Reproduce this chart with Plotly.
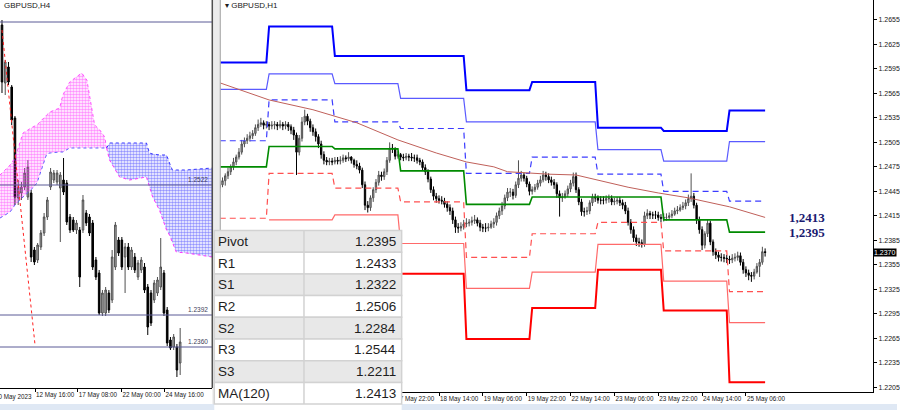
import plotly.graph_objects as go

W, H = 900, 410


def px(x):
    return x / W


def py(y):
    return 1 - y / H


# ---------------- H4 panel data (left) ----------------
h4_open = [1.2682, 1.2624, 1.2640, 1.2620, 1.2589, 1.2509, 1.2514, 1.2520, 1.2510, 1.2514,
           1.2457, 1.2447, 1.2460, 1.2474, 1.2490, 1.2520, 1.2527, 1.2525, 1.2519, 1.2527,
           1.2524, 1.2490, 1.2487, 1.2477, 1.2477, 1.2477, 1.2494, 1.2490, 1.2484, 1.2447,
           1.2434, 1.2394, 1.2394, 1.2414, 1.2407, 1.2440, 1.2467, 1.2467, 1.2450, 1.2460,
           1.2440, 1.2450, 1.2430, 1.2437, 1.2440, 1.2420, 1.2414, 1.2407, 1.2414, 1.2420,
           1.2434, 1.2397, 1.2367, 1.2360, 1.2360, 1.2344]
h4_high = [1.2687, 1.2647, 1.2645, 1.2622, 1.2591, 1.2527, 1.2525, 1.2539, 1.2547, 1.2517,
           1.2460, 1.2464, 1.2477, 1.2494, 1.2510, 1.2539, 1.2537, 1.2537, 1.2535, 1.2549,
           1.2527, 1.2493, 1.2490, 1.2487, 1.2480, 1.2512, 1.2497, 1.2493, 1.2487, 1.2450,
           1.2437, 1.2417, 1.2420, 1.2417, 1.2457, 1.2485, 1.2470, 1.2470, 1.2464, 1.2464,
           1.2460, 1.2454, 1.2447, 1.2450, 1.2444, 1.2423, 1.2417, 1.2427, 1.2430, 1.2469,
           1.2437, 1.2400, 1.2370, 1.2373, 1.2363, 1.2379]
h4_low = [1.2614, 1.2612, 1.2622, 1.2582, 1.2502, 1.2502, 1.2507, 1.2517, 1.2507, 1.2445,
          1.2442, 1.2444, 1.2457, 1.2471, 1.2487, 1.2517, 1.2524, 1.2522, 1.2465, 1.2512,
          1.2482, 1.2474, 1.2475, 1.2473, 1.2420, 1.2474, 1.2481, 1.2471, 1.2437, 1.2427,
          1.2392, 1.2391, 1.2391, 1.2394, 1.2404, 1.2437, 1.2451, 1.2437, 1.2414, 1.2437,
          1.2437, 1.2434, 1.2427, 1.2434, 1.2414, 1.2372, 1.2381, 1.2404, 1.2411, 1.2417,
          1.2391, 1.2361, 1.2357, 1.2357, 1.2330, 1.2332]
h4_close = [1.2625, 1.2645, 1.2625, 1.2587, 1.2510, 1.2520, 1.2520, 1.2534, 1.2540, 1.2450,
            1.2445, 1.2462, 1.2474, 1.2490, 1.2507, 1.2535, 1.2534, 1.2534, 1.2532, 1.2515,
            1.2485, 1.2477, 1.2477, 1.2484, 1.2430, 1.2507, 1.2484, 1.2474, 1.2440, 1.2430,
            1.2394, 1.2414, 1.2417, 1.2397, 1.2450, 1.2482, 1.2454, 1.2440, 1.2460, 1.2440,
            1.2457, 1.2437, 1.2444, 1.2447, 1.2417, 1.2380, 1.2384, 1.2424, 1.2427, 1.2440,
            1.2394, 1.2364, 1.2359, 1.2370, 1.2337, 1.2365]

# Ichimoku cloud: first part (magenta) and second part (blue)
kumo1_bars = [-0.6, 2.5, 4.0, 5.5, 6.5, 9.5, 10.8, 13.8, 14.8, 17.8, 18.8, 20.9, 24.6, 26.2, 27.1, 28.6, 30.2, 31.7, 32.3]
kumo1_top = [1.2532, 1.2542, 1.2549, 1.2565, 1.2574, 1.2580, 1.2582, 1.2592, 1.2595, 1.2599,
             1.2612, 1.2625, 1.2634, 1.2627, 1.2609, 1.2582, 1.2577, 1.2570, 1.2559]
kumo1_bot = [1.2489, 1.2495, 1.2502, 1.2507, 1.2510, 1.2519, 1.2524, 1.2553, 1.2554, 1.2555,
             1.2555, 1.2559, 1.2559, 1.2559, 1.2559, 1.2559, 1.2559, 1.2559, 1.2559]
kumo2_bars = [32.3, 33.2, 36.3, 39.4, 44.6, 45.5, 46.5, 48.6, 50.8, 51.7, 52.3, 52.6, 53.8, 56.9, 64.9]
kumo2_top = [1.2559, 1.2564, 1.2564, 1.2564, 1.2564, 1.2554, 1.2553, 1.2552, 1.2552, 1.2544,
             1.2539, 1.2537, 1.2537, 1.2537, 1.2539]
kumo2_bot = [1.2559, 1.2547, 1.2530, 1.2527, 1.2530, 1.2520, 1.2510, 1.2497, 1.2477, 1.2472,
             1.2467, 1.2464, 1.2455, 1.2454, 1.2450]

h4_levels = [1.2685, 1.2522, 1.2392, 1.2360]
h4_level_labels = ["", "1.2522", "1.2392", "1.2360"]
h4_trend_bars = [0.0, 10.2]
h4_trend_prices = [1.2677, 1.2362]

h4_tick_bars = [10.2, 23.4, 36.9, 50.2]
h4_tick_text = ["12 May 16:00", "17 May 08:00", "22 May 00:00", "24 May 16:00"]
h4_first_label = "10 May 2023"   # cut by the left edge of the window

# ---------------- H1 panel data (right) ----------------
h1_open = [
    1.2449, 1.2453, 1.2458, 1.2464, 1.2469, 1.2475, 1.2481, 1.2487, 1.2493, 1.2503,
    1.2507, 1.2510, 1.2513, 1.2516, 1.2523, 1.2527, 1.2529, 1.2526, 1.2527, 1.2525,
    1.2526, 1.2527, 1.2525, 1.2527, 1.2525, 1.2527, 1.2524, 1.2520, 1.2514, 1.2493,
    1.2510, 1.2530, 1.2537, 1.2531, 1.2523, 1.2518, 1.2512, 1.2503, 1.2490, 1.2483,
    1.2481, 1.2482, 1.2481, 1.2483, 1.2482, 1.2483, 1.2486, 1.2485, 1.2487, 1.2483,
    1.2478, 1.2476, 1.2471, 1.2453, 1.2428, 1.2425, 1.2437, 1.2447, 1.2456, 1.2465,
    1.2463, 1.2469, 1.2483, 1.2498, 1.2497, 1.2488, 1.2490, 1.2487, 1.2486, 1.2488,
    1.2487, 1.2486, 1.2486, 1.2483, 1.2481, 1.2474, 1.2469, 1.2460, 1.2447, 1.2439,
    1.2436, 1.2434, 1.2433, 1.2429, 1.2425, 1.2421, 1.2410, 1.2401, 1.2400, 1.2402,
    1.2405, 1.2406, 1.2407, 1.2409, 1.2410, 1.2406, 1.2401, 1.2400, 1.2400, 1.2401,
    1.2405, 1.2407, 1.2415, 1.2421, 1.2427, 1.2437, 1.2444, 1.2444, 1.2440, 1.2453,
    1.2461, 1.2465, 1.2461, 1.2454, 1.2445, 1.2447, 1.2450, 1.2455, 1.2459, 1.2465,
    1.2463, 1.2459, 1.2456, 1.2453, 1.2442, 1.2437, 1.2438, 1.2442, 1.2448, 1.2455,
    1.2463, 1.2447, 1.2432, 1.2420, 1.2420, 1.2421, 1.2431, 1.2438, 1.2437, 1.2434,
    1.2434, 1.2434, 1.2436, 1.2436, 1.2432, 1.2433, 1.2434, 1.2431, 1.2428, 1.2421,
    1.2407, 1.2398, 1.2388, 1.2383, 1.2382, 1.2380, 1.2415, 1.2418, 1.2416, 1.2416,
    1.2416, 1.2413, 1.2412, 1.2413, 1.2413, 1.2415, 1.2417, 1.2421, 1.2422, 1.2425,
    1.2427, 1.2431, 1.2436, 1.2439, 1.2428, 1.2410, 1.2398, 1.2379, 1.2393, 1.2406,
    1.2383, 1.2371, 1.2367, 1.2364, 1.2364, 1.2363, 1.2362, 1.2361, 1.2363, 1.2364,
    1.2366, 1.2358, 1.2349, 1.2345, 1.2342, 1.2341, 1.2346, 1.2353, 1.2358, 1.2371]
h1_high = [
    1.2457, 1.2462, 1.2467, 1.2474, 1.2478, 1.2486, 1.2490, 1.2498, 1.2508, 1.2511,
    1.2515, 1.2518, 1.2520, 1.2527, 1.2533, 1.2535, 1.2532, 1.2531, 1.2530, 1.2531,
    1.2531, 1.2530, 1.2532, 1.2530, 1.2531, 1.2530, 1.2527, 1.2524, 1.2517, 1.2514,
    1.2536, 1.2545, 1.2540, 1.2534, 1.2527, 1.2522, 1.2515, 1.2507, 1.2494, 1.2487,
    1.2486, 1.2486, 1.2487, 1.2487, 1.2488, 1.2490, 1.2489, 1.2493, 1.2488, 1.2485,
    1.2483, 1.2480, 1.2474, 1.2457, 1.2433, 1.2440, 1.2450, 1.2460, 1.2470, 1.2469,
    1.2473, 1.2487, 1.2505, 1.2503, 1.2499, 1.2494, 1.2492, 1.2491, 1.2492, 1.2491,
    1.2492, 1.2490, 1.2490, 1.2486, 1.2484, 1.2478, 1.2472, 1.2463, 1.2451, 1.2443,
    1.2440, 1.2439, 1.2437, 1.2433, 1.2429, 1.2425, 1.2414, 1.2406, 1.2407, 1.2410,
    1.2412, 1.2411, 1.2414, 1.2416, 1.2413, 1.2410, 1.2405, 1.2406, 1.2406, 1.2409,
    1.2412, 1.2419, 1.2425, 1.2432, 1.2441, 1.2449, 1.2449, 1.2448, 1.2457, 1.2483,
    1.2470, 1.2468, 1.2464, 1.2457, 1.2451, 1.2454, 1.2459, 1.2464, 1.2470, 1.2469,
    1.2467, 1.2463, 1.2460, 1.2456, 1.2446, 1.2443, 1.2446, 1.2452, 1.2459, 1.2468,
    1.2468, 1.2450, 1.2436, 1.2425, 1.2426, 1.2434, 1.2442, 1.2442, 1.2440, 1.2439,
    1.2439, 1.2440, 1.2441, 1.2440, 1.2437, 1.2438, 1.2438, 1.2435, 1.2432, 1.2425,
    1.2411, 1.2402, 1.2392, 1.2388, 1.2386, 1.2420, 1.2423, 1.2421, 1.2420, 1.2421,
    1.2420, 1.2417, 1.2418, 1.2418, 1.2419, 1.2422, 1.2425, 1.2427, 1.2429, 1.2432,
    1.2435, 1.2441, 1.2467, 1.2443, 1.2431, 1.2414, 1.2402, 1.2396, 1.2410, 1.2409,
    1.2386, 1.2375, 1.2371, 1.2369, 1.2368, 1.2367, 1.2366, 1.2368, 1.2369, 1.2371,
    1.2370, 1.2362, 1.2353, 1.2349, 1.2346, 1.2350, 1.2357, 1.2362, 1.2377, 1.2375]
h1_low = [
    1.2444, 1.2450, 1.2452, 1.2460, 1.2465, 1.2471, 1.2477, 1.2484, 1.2490, 1.2499,
    1.2503, 1.2506, 1.2509, 1.2513, 1.2519, 1.2524, 1.2521, 1.2522, 1.2520, 1.2521,
    1.2521, 1.2520, 1.2522, 1.2520, 1.2521, 1.2519, 1.2515, 1.2508, 1.2465, 1.2489,
    1.2506, 1.2526, 1.2526, 1.2518, 1.2513, 1.2506, 1.2498, 1.2485, 1.2478, 1.2477,
    1.2477, 1.2477, 1.2478, 1.2478, 1.2478, 1.2480, 1.2481, 1.2482, 1.2479, 1.2474,
    1.2472, 1.2467, 1.2449, 1.2422, 1.2419, 1.2421, 1.2432, 1.2443, 1.2452, 1.2458,
    1.2459, 1.2465, 1.2480, 1.2492, 1.2484, 1.2485, 1.2483, 1.2482, 1.2483, 1.2482,
    1.2482, 1.2481, 1.2479, 1.2477, 1.2470, 1.2465, 1.2456, 1.2443, 1.2434, 1.2431,
    1.2430, 1.2429, 1.2425, 1.2420, 1.2416, 1.2405, 1.2394, 1.2394, 1.2396, 1.2398,
    1.2401, 1.2402, 1.2403, 1.2405, 1.2402, 1.2396, 1.2395, 1.2395, 1.2396, 1.2399,
    1.2400, 1.2403, 1.2411, 1.2416, 1.2423, 1.2433, 1.2438, 1.2435, 1.2437, 1.2449,
    1.2457, 1.2457, 1.2450, 1.2440, 1.2441, 1.2444, 1.2447, 1.2451, 1.2456, 1.2458,
    1.2455, 1.2452, 1.2448, 1.2437, 1.2414, 1.2432, 1.2436, 1.2438, 1.2444, 1.2451,
    1.2443, 1.2428, 1.2415, 1.2414, 1.2416, 1.2417, 1.2427, 1.2432, 1.2430, 1.2429,
    1.2429, 1.2430, 1.2431, 1.2428, 1.2428, 1.2429, 1.2427, 1.2423, 1.2417, 1.2403,
    1.2393, 1.2383, 1.2378, 1.2377, 1.2376, 1.2377, 1.2411, 1.2411, 1.2411, 1.2411,
    1.2409, 1.2407, 1.2408, 1.2409, 1.2410, 1.2412, 1.2415, 1.2417, 1.2420, 1.2422,
    1.2423, 1.2427, 1.2432, 1.2424, 1.2405, 1.2393, 1.2373, 1.2375, 1.2389, 1.2379,
    1.2366, 1.2362, 1.2359, 1.2359, 1.2358, 1.2357, 1.2356, 1.2357, 1.2359, 1.2360,
    1.2354, 1.2344, 1.2340, 1.2336, 1.2334, 1.2337, 1.2344, 1.2340, 1.2355, 1.2365]
h1_close = [
    1.2453, 1.2458, 1.2464, 1.2469, 1.2475, 1.2481, 1.2487, 1.2493, 1.2503, 1.2507,
    1.2510, 1.2513, 1.2516, 1.2523, 1.2527, 1.2529, 1.2526, 1.2527, 1.2525, 1.2526,
    1.2527, 1.2525, 1.2527, 1.2525, 1.2527, 1.2524, 1.2520, 1.2514, 1.2493, 1.2510,
    1.2530, 1.2537, 1.2531, 1.2523, 1.2518, 1.2512, 1.2503, 1.2490, 1.2483, 1.2481,
    1.2482, 1.2481, 1.2483, 1.2482, 1.2483, 1.2486, 1.2485, 1.2487, 1.2483, 1.2478,
    1.2476, 1.2471, 1.2453, 1.2428, 1.2425, 1.2437, 1.2447, 1.2456, 1.2465, 1.2463,
    1.2469, 1.2483, 1.2498, 1.2497, 1.2488, 1.2490, 1.2487, 1.2486, 1.2488, 1.2487,
    1.2486, 1.2486, 1.2483, 1.2481, 1.2474, 1.2469, 1.2460, 1.2447, 1.2439, 1.2436,
    1.2434, 1.2433, 1.2429, 1.2425, 1.2421, 1.2410, 1.2401, 1.2400, 1.2402, 1.2405,
    1.2406, 1.2407, 1.2409, 1.2410, 1.2406, 1.2401, 1.2400, 1.2400, 1.2401, 1.2405,
    1.2407, 1.2415, 1.2421, 1.2427, 1.2437, 1.2444, 1.2444, 1.2440, 1.2453, 1.2461,
    1.2465, 1.2461, 1.2454, 1.2445, 1.2447, 1.2450, 1.2455, 1.2459, 1.2465, 1.2463,
    1.2459, 1.2456, 1.2453, 1.2442, 1.2437, 1.2438, 1.2442, 1.2448, 1.2455, 1.2463,
    1.2447, 1.2432, 1.2420, 1.2420, 1.2421, 1.2431, 1.2438, 1.2437, 1.2434, 1.2434,
    1.2434, 1.2436, 1.2436, 1.2432, 1.2433, 1.2434, 1.2431, 1.2428, 1.2421, 1.2407,
    1.2398, 1.2388, 1.2383, 1.2382, 1.2380, 1.2415, 1.2418, 1.2416, 1.2416, 1.2416,
    1.2413, 1.2412, 1.2413, 1.2413, 1.2415, 1.2417, 1.2421, 1.2422, 1.2425, 1.2427,
    1.2431, 1.2436, 1.2439, 1.2428, 1.2410, 1.2398, 1.2379, 1.2393, 1.2406, 1.2383,
    1.2371, 1.2367, 1.2364, 1.2364, 1.2363, 1.2362, 1.2361, 1.2363, 1.2364, 1.2366,
    1.2358, 1.2349, 1.2345, 1.2342, 1.2341, 1.2346, 1.2353, 1.2358, 1.2371, 1.2370]

# daily pivot levels (15 May .. 25 May), first bar of each day
day_names = ["15 May", "16 May", "17 May", "18 May", "19 May", "22 May", "23 May", "24 May", "25 May"]
day_start = [0, 18, 42, 66, 90, 114, 138, 162, 186]
r3 = [1.2603, 1.2647, 1.2611, 1.2611, 1.2569, 1.2579, 1.2523, 1.2519, 1.2544]
r2 = [1.2570, 1.2589, 1.2577, 1.2559, 1.2530, 1.2530, 1.2496, 1.2482, 1.2506]
r1 = [1.2507, 1.2557, 1.2530, 1.2522, 1.2467, 1.2487, 1.2466, 1.2445, 1.2433]
pivot = [1.2475, 1.2500, 1.2497, 1.2470, 1.2429, 1.2438, 1.2438, 1.2410, 1.2395]
s1 = [1.2412, 1.2467, 1.2449, 1.2432, 1.2364, 1.2393, 1.2407, 1.2372, 1.2322]
s2 = [None, 1.2410, 1.2416, 1.2381, 1.2326, 1.2346, 1.2380, 1.2335, 1.2284]
s3 = [None, None, None, 1.2344, 1.2264, 1.2302, 1.2349, 1.2299, 1.2211]

# MA(120) read at some bars
ma_bars = [0, 18, 34, 50, 65, 79, 90, 100, 105, 120, 130, 138, 149, 160, 171, 186, 199]
ma_vals = [1.2578, 1.2557, 1.2545, 1.2529, 1.2508, 1.2492, 1.2481, 1.2475, 1.2469, 1.2466,
           1.2465, 1.2459, 1.2450, 1.2443, 1.2437, 1.2426, 1.2413]

# time labels left of 17 May 22:00 sit under the table and are not drawn
h1_tick_bars = [64, 80, 96, 112, 128, 144, 160, 176, 192]
h1_tick_text = ["17 May 22:00", "18 May 14:00", "19 May 06:00", "19 May 22:00", "22 May 14:00",
                "23 May 06:00", "23 May 22:00", "24 May 14:00", "25 May 06:00"]

NARROW = "Liberation Sans Narrow, Liberation Sans, Arial"
TICKFONT = dict(family=NARROW, size=6.3, color="#202020")
YTICKFONT = dict(family=NARROW, size=7, color="#202020")

fig = go.Figure()

# ---- left panel: cloud ----
fig.add_trace(go.Scatter(x=kumo1_bars, y=kumo1_bot, mode="lines",
                         line=dict(color="#6060ff", width=1, dash="dot"), hoverinfo="skip"))
fig.add_trace(go.Scatter(x=kumo1_bars, y=kumo1_top, mode="lines", fill="tonexty",
                         fillcolor="rgba(0,0,0,0)",
                         fillpattern=dict(shape=".", fgcolor="#ff22ff", bgcolor="rgba(0,0,0,0)",
                                          size=3, solidity=0.55),
                         line=dict(color="#ff55ff", width=1, dash="dot"), hoverinfo="skip"))
fig.add_trace(go.Scatter(x=kumo2_bars, y=kumo2_bot, mode="lines",
                         line=dict(color="#ff33ff", width=1, dash="dot"), hoverinfo="skip"))
fig.add_trace(go.Scatter(x=kumo2_bars, y=kumo2_top, mode="lines", fill="tonexty",
                         fillcolor="rgba(0,0,0,0)",
                         fillpattern=dict(shape=".", fgcolor="#2a2aff", bgcolor="rgba(0,0,0,0)",
                                          size=3, solidity=0.55),
                         line=dict(color="#3333ff", width=1, dash="dot"), hoverinfo="skip"))
fig.add_trace(go.Scatter(x=h4_trend_bars, y=h4_trend_prices, mode="lines",
                         line=dict(color="#ff2020", width=1, dash="dot"), hoverinfo="skip"))

fig.add_trace(go.Candlestick(
    x=list(range(len(h4_close))), open=h4_open, high=h4_high, low=h4_low, close=h4_close,
    increasing=dict(line=dict(color="#505050", width=1), fillcolor="#a8a8a8"),
    decreasing=dict(line=dict(color="#000000", width=1), fillcolor="#000000"),
    whiskerwidth=0, hoverinfo="skip"))


# ---- right panel: pivot steps ----
def steps(levels):
    xs, ys = [], []
    for k, v in enumerate(levels):
        end = day_start[k + 1] - 1 if k + 1 < len(day_start) else len(h1_close) - 1
        xs += [day_start[k], end]
        ys += [v, v]
    return xs, ys


level_styles = [
    (r3, "#0000ff", 2, "solid"),
    (r2, "#5a5aff", 1.2, "solid"),
    (r1, "#3c3cff", 1.2, "6px,4px"),
    (s1, "#ff5050", 1.2, "6px,4px"),
    (s2, "#ff6a6a", 1.2, "solid"),
    (s3, "#ff0000", 2, "solid"),
]
for lev, col, wd, dash in level_styles:
    xs, ys = steps(lev)
    fig.add_trace(go.Scatter(x=xs, y=ys, mode="lines", xaxis="x2", yaxis="y2",
                             line=dict(color=col, width=wd, dash=dash), hoverinfo="skip"))

fig.add_trace(go.Scatter(x=ma_bars, y=ma_vals, mode="lines", xaxis="x2", yaxis="y2",
                         line=dict(color="#c0605a", width=1), hoverinfo="skip"))
xs, ys = steps(pivot)
fig.add_trace(go.Scatter(x=xs, y=ys, mode="lines", xaxis="x2", yaxis="y2",
                         line=dict(color="#008a00", width=1.6), hoverinfo="skip"))

fig.add_trace(go.Candlestick(
    x=list(range(len(h1_close))), open=h1_open, high=h1_high, low=h1_low, close=h1_close,
    xaxis="x2", yaxis="y2",
    increasing=dict(line=dict(color="#505050", width=1), fillcolor="#a8a8a8"),
    decreasing=dict(line=dict(color="#000000", width=1), fillcolor="#000000"),
    whiskerwidth=0, hoverinfo="skip"))

# ---- shapes ----
shapes = []
for v in h4_levels:
    shapes.append(dict(type="line", xref="x domain", yref="y", x0=0, x1=1, y0=v, y1=v,
                       line=dict(color="#5a5a96", width=1), layer="above"))
# panel separators and bottom strip
shapes += [
    dict(type="rect", xref="paper", yref="paper", x0=px(213), x1=px(221), y0=0, y1=1,
         fillcolor="#ececec", line=dict(width=0), layer="above"),
    dict(type="line", xref="paper", yref="paper", x0=px(213), x1=px(213), y0=py(388), y1=1,
         line=dict(color="#505050", width=1.5), layer="above"),
    dict(type="line", xref="paper", yref="paper", x0=px(221), x1=px(221), y0=py(392), y1=1,
         line=dict(color="#a0a0a0", width=1), layer="above"),
    dict(type="rect", xref="paper", yref="paper", x0=0, x1=1, y0=0, y1=py(404),
         fillcolor="#dfe8f4", line=dict(width=0), layer="above"),
]

# ---- table ----
table_labels = ["Pivot", "R1", "S1", "R2", "S2", "R3", "S3", "MA(120)"]
table_values = [pivot[-1], r1[-1], s1[-1], r2[-1], s2[-1], r3[-1], s3[-1], ma_vals[-1]]
tx0, tmid, tx1 = 215, 305, 403
ty0, row_h = 230.5, 21.7
shapes.append(dict(type="rect", xref="paper", yref="paper", x0=px(tx0), x1=px(tx1),
                   y0=0, y1=py(ty0), fillcolor="#ffffff", line=dict(width=0), layer="above"))
annotations = []
for k, (lab, val) in enumerate(zip(table_labels, table_values)):
    top = ty0 + k * row_h
    bg = "#e8e8e8" if k % 2 == 0 else "#ffffff"
    shapes.append(dict(type="rect", xref="paper", yref="paper", x0=px(tx0), x1=px(tx1),
                       y0=py(top + row_h), y1=py(top), fillcolor=bg,
                       line=dict(color="#d2d2d2", width=1.5), layer="above"))
    annotations.append(dict(x=px(217), y=py(top + row_h / 2), xref="paper", yref="paper",
                            text=lab, showarrow=False, xanchor="left", yanchor="middle",
                            font=dict(family=NARROW, size=13.5, color="#1e1e1e")))
    annotations.append(dict(x=px(399), y=py(top + row_h / 2), xref="paper", yref="paper",
                            text=f"{val:.4f}", showarrow=False, xanchor="right", yanchor="middle",
                            font=dict(family=NARROW, size=13.5, color="#1e1e1e")))
shapes.append(dict(type="line", xref="paper", yref="paper", x0=px(tmid), x1=px(tmid),
                   y0=py(ty0 + 8 * row_h), y1=py(ty0), line=dict(color="#d2d2d2", width=1.5),
                   layer="above"))

# ---- text ----
annotations += [
    dict(x=px(2), y=py(5), xref="paper", yref="paper", text="GBPUSD,H4", showarrow=False,
         xanchor="left", yanchor="middle", font=dict(family=NARROW, size=8, color="#202020")),
    dict(x=px(224), y=py(5), xref="paper", yref="paper", text="▾ GBPUSD,H1", showarrow=False,
         xanchor="left", yanchor="middle", font=dict(family=NARROW, size=8, color="#202020")),
    dict(x=0, y=py(397), xref="paper", yref="paper", text=h4_first_label, xshift=-7,
         showarrow=False, xanchor="left", yanchor="middle", font=TICKFONT),
    dict(x=px(876), y=h1_close[-1], xref="paper", yref="y2", text=f"{h1_close[-1]:.4f}",
         showarrow=False, xanchor="left", yanchor="middle", bgcolor="#000000",
         font=dict(family=NARROW, size=7, color="#ffffff"), borderpad=0),
]
for v in (ma_vals[-1], pivot[-1]):
    annotations.append(dict(x=px(810), y=v, xref="paper", yref="y2",
                            text=f"{v:.4f}".replace(".", ","), showarrow=False,
                            xanchor="center", yanchor="middle",
                            font=dict(family="Liberation Serif, Times New Roman, serif",
                                      size=13, color="#1a1a70", weight="bold")))
for v, lab in zip(h4_levels, h4_level_labels):
    if lab:
        annotations.append(dict(x=px(211), y=v, xref="paper", yref="y", text=lab,
                                showarrow=False, xanchor="right", yanchor="bottom",
                                font=dict(family=NARROW, size=6.5, color="#40405a")))

fig.update_layout(
    width=W, height=H, margin=dict(l=0, r=0, t=0, b=0),
    paper_bgcolor="#ffffff", plot_bgcolor="#ffffff", showlegend=False,
    xaxis=dict(domain=[0, px(213)], range=[-0.615, 64.92], anchor="y",
               rangeslider=dict(visible=False), showgrid=False, zeroline=False,
               showline=True, linecolor="#000000", linewidth=1,
               tickmode="array", tickvals=h4_tick_bars, ticktext=h4_tick_text,
               ticks="outside", ticklen=3, tickcolor="#000000", tickangle=0,
               ticklabelposition="outside right", tickfont=TICKFONT),
    yaxis=dict(domain=[py(388), 1], range=[1.2319, 1.2707], anchor="x",
               showgrid=False, zeroline=False, showticklabels=False, showline=False),
    xaxis2=dict(domain=[px(221), px(876)], range=[0.18, 238.4], anchor="y2",
                rangeslider=dict(visible=False), showgrid=False, zeroline=False,
                showline=True, linecolor="#000000", linewidth=1,
                tickmode="array", tickvals=h1_tick_bars, ticktext=h1_tick_text,
                ticks="outside", ticklen=3, tickcolor="#000000", tickangle=0,
                ticklabelposition="outside right", tickfont=TICKFONT),
    yaxis2=dict(domain=[py(392), 1], range=[1.2199, 1.26795], anchor="x2", side="right",
                showgrid=False, zeroline=False, showline=True, linecolor="#000000", linewidth=1,
                tick0=1.2205, dtick=0.003, tickformat=".4f",
                ticks="outside", ticklen=3, tickcolor="#000000", tickfont=YTICKFONT),
    shapes=shapes,
    annotations=annotations,
)

# the page body has a default margin; remove it so the figure sits at the window corner
fig.write_html("out.html", config={"displayModeBar": False},
               post_script="document.body.style.margin='0';")
